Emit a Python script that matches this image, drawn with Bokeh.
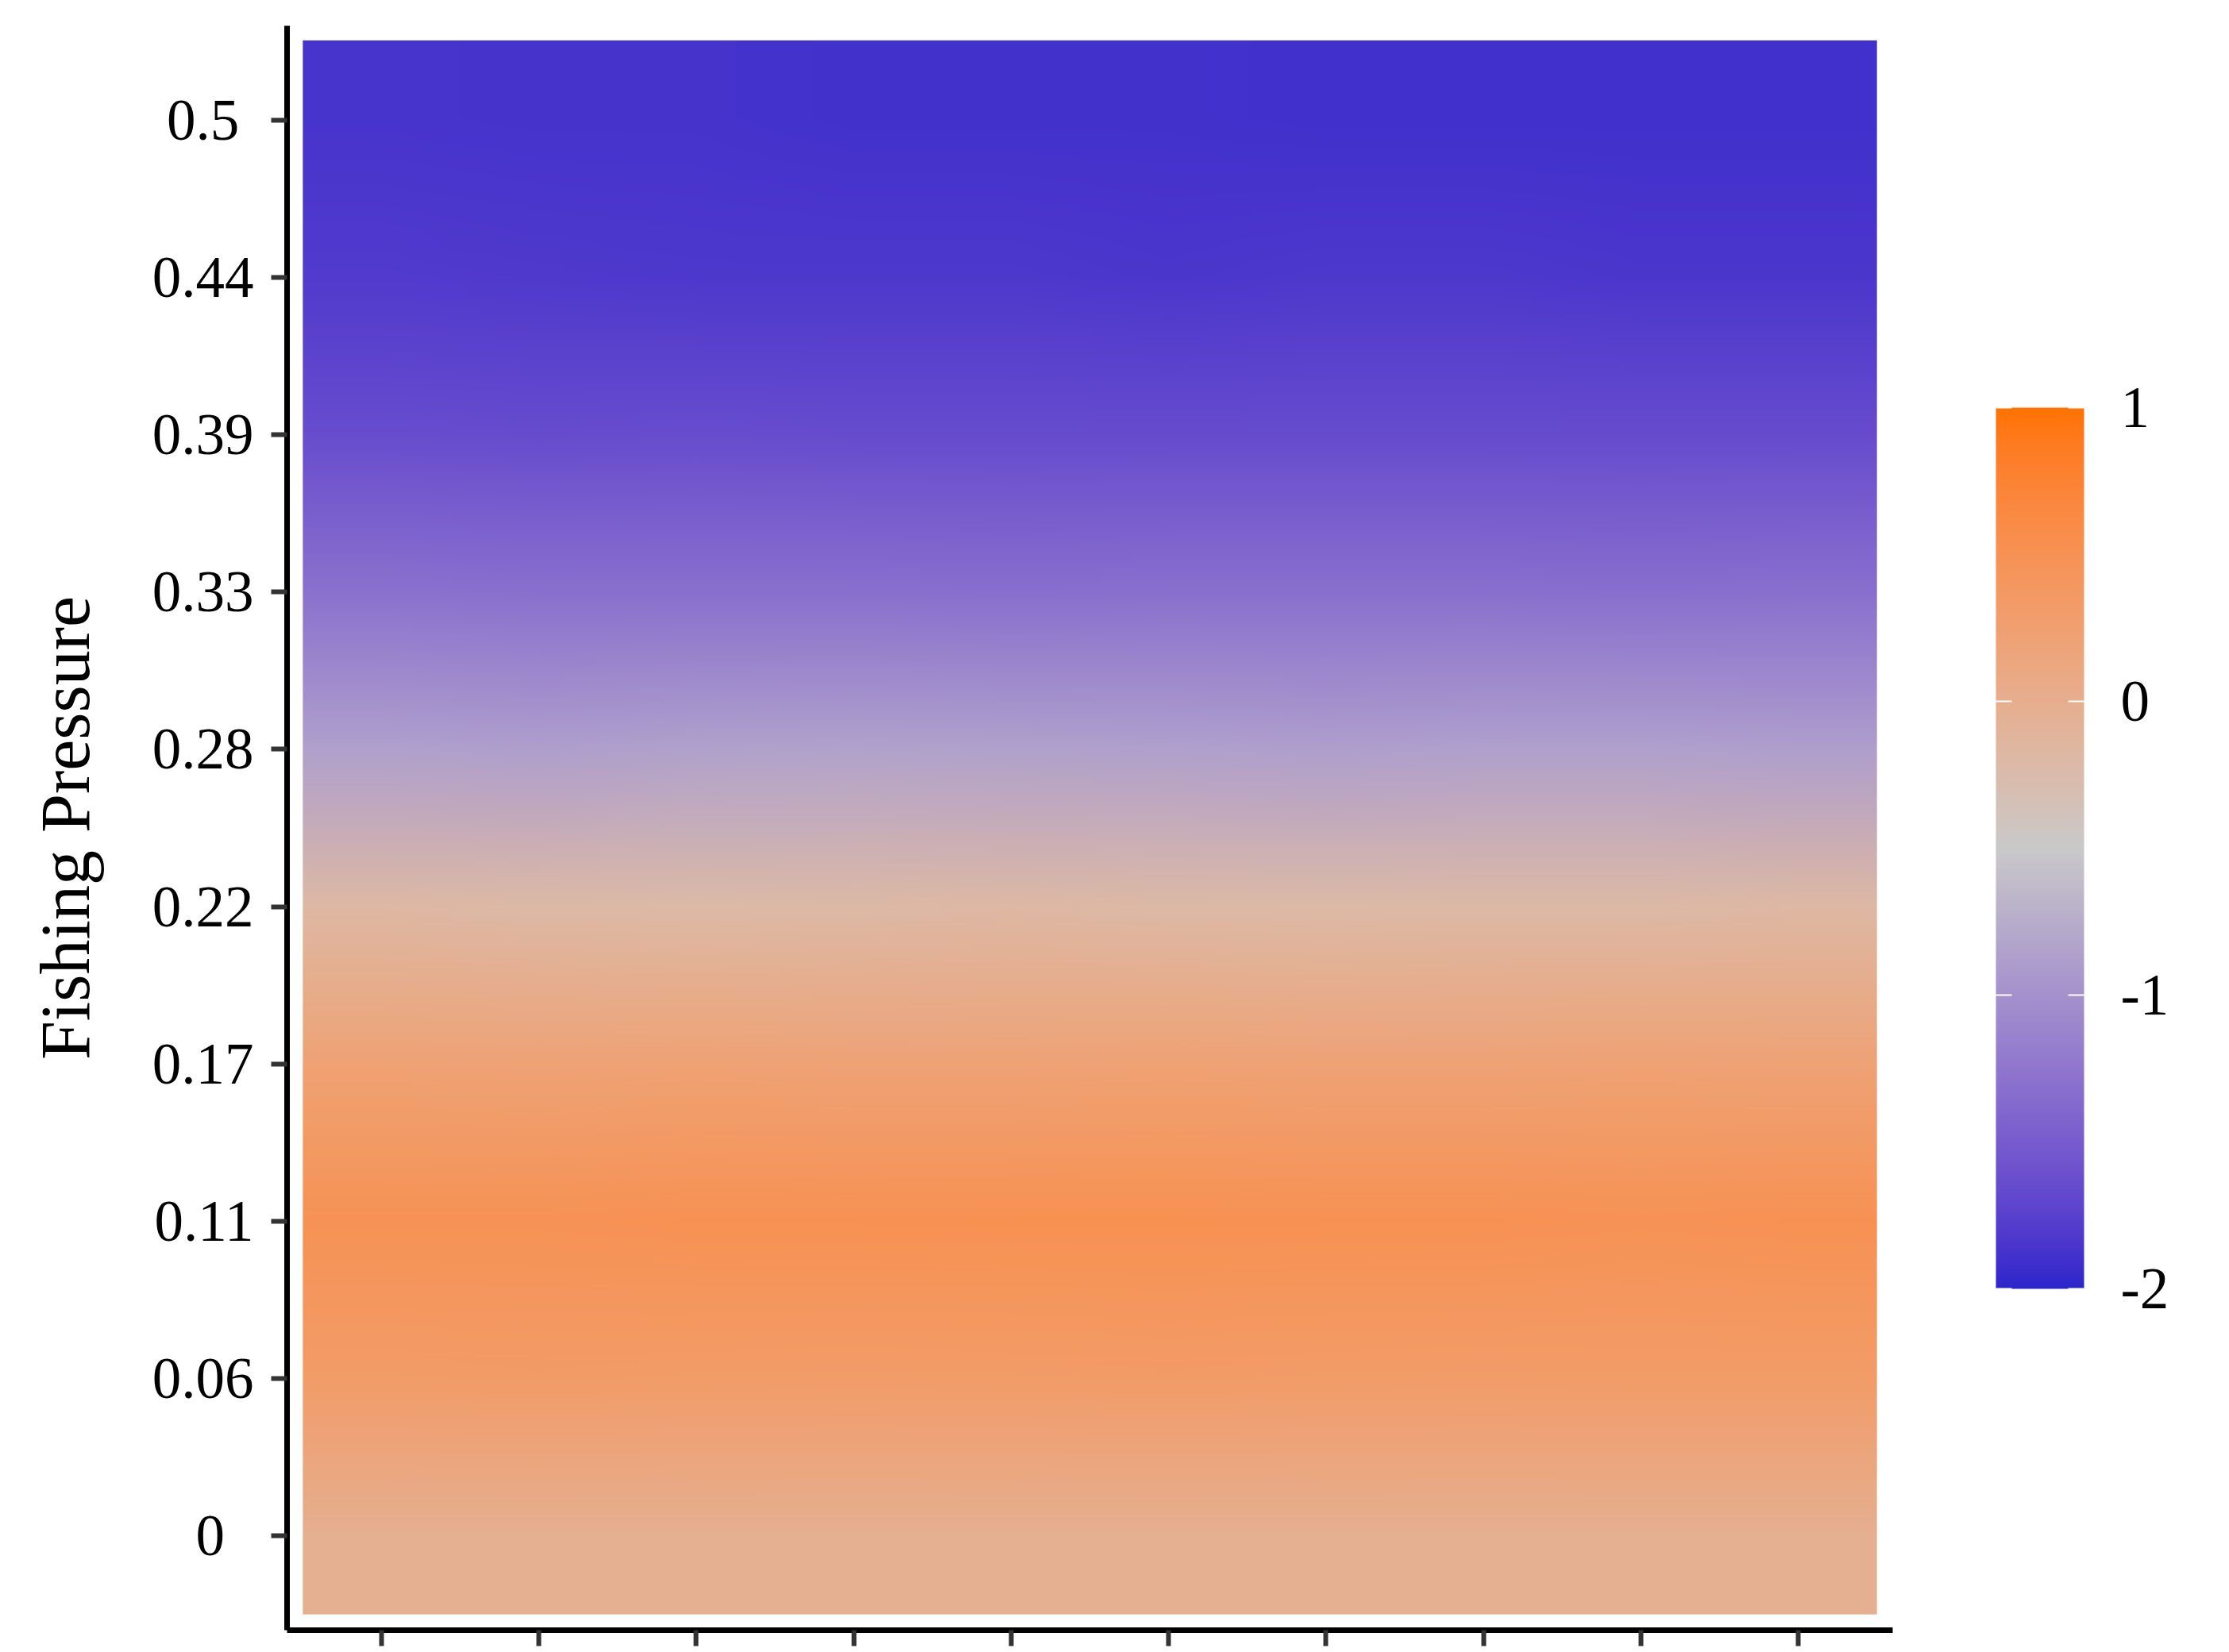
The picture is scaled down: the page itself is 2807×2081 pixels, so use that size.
import numpy as np
from bokeh.plotting import figure
from bokeh.models import LinearColorMapper, ColorBar, FixedTicker, Range1d
from bokeh.embed import file_html
from bokeh.resources import INLINE

# ---------------- data ----------------
x_positions = [1, 2, 3, 4, 5, 6, 7, 8, 9, 10]
y_values = [0.0, 0.0556, 0.1111, 0.1667, 0.2222, 0.2778, 0.3333, 0.3889, 0.4444, 0.5]
y_labels = ["0\u00a0\u00a0", "0.06", "0.11", "0.17", "0.22", "0.28", "0.33", "0.39", "0.44", "0.5\u00a0"]

# fill value per cell, one list per fishing-pressure row (columns left -> right)
fp_000 = [-0.03, -0.03, -0.02, -0.03, -0.03, -0.02, -0.03, -0.03, -0.02, -0.03]
fp_006 = [0.33, 0.34, 0.33, 0.32, 0.33, 0.34, 0.33, 0.32, 0.33, 0.33]
fp_011 = [0.49, 0.49, 0.50, 0.50, 0.51, 0.51, 0.50, 0.50, 0.49, 0.50]
fp_017 = [0.22, 0.21, 0.22, 0.21, 0.21, 0.22, 0.21, 0.21, 0.22, 0.21]
fp_022 = [-0.19, -0.20, -0.21, -0.20, -0.19, -0.20, -0.21, -0.20, -0.20, -0.19]
fp_028 = [-0.87, -0.88, -0.86, -0.85, -0.86, -0.87, -0.88, -0.87, -0.87, -0.88]
fp_033 = [-1.30, -1.32, -1.31, -1.32, -1.33, -1.32, -1.31, -1.32, -1.33, -1.32]
fp_039 = [-1.64, -1.65, -1.64, -1.65, -1.66, -1.65, -1.65, -1.66, -1.66, -1.65]
fp_044 = [-1.81, -1.82, -1.83, -1.83, -1.83, -1.84, -1.83, -1.83, -1.84, -1.84]
fp_050 = [-1.87, -1.88, -1.88, -1.89, -1.89, -1.89, -1.90, -1.90, -1.90, -1.90]

color_ticks = [-2, -1, 0, 1]
color_tick_labels = ["-2", "-1", "0", "1"]
color_low, color_high = -2.0, 1.0

# ---------------- palette (Lab-space diverging gradient) ----------------
def _hex_to_rgb(h):
    h = h.lstrip("#")
    return np.array([int(h[i:i + 2], 16) for i in (0, 2, 4)], dtype=float) / 255.0

def _to_lin(c):
    return np.where(c <= 0.04045, c / 12.92, ((c + 0.055) / 1.055) ** 2.4)

def _from_lin(c):
    c = np.clip(c, 0, 1)
    return np.where(c <= 0.0031308, 12.92 * c, 1.055 * c ** (1 / 2.4) - 0.055)

_M = np.array([[0.4124, 0.3576, 0.1805], [0.2126, 0.7152, 0.0722], [0.0193, 0.1192, 0.9505]])
_Minv = np.linalg.inv(_M)
_WHITE = np.array([0.95047, 1.0, 1.08883])

def _f(t):
    return np.where(t > (6 / 29) ** 3, np.cbrt(t), t / (3 * (6 / 29) ** 2) + 4 / 29)

def _finv(t):
    return np.where(t > 6 / 29, t ** 3, 3 * (6 / 29) ** 2 * (t - 4 / 29))

def rgb_to_lab(rgb):
    xyz = _M @ _to_lin(rgb) / _WHITE
    fx, fy, fz = _f(xyz)
    return np.array([116 * fy - 16, 500 * (fx - fy), 200 * (fy - fz)])

def lab_to_rgb255(lab):
    L, a, b = lab
    fy = (L + 16) / 116
    xyz = np.array([_finv(fy + a / 500), _finv(fy), _finv(fy - b / 200)]) * _WHITE
    rgb = _from_lin(_Minv @ xyz)
    return (np.round(rgb * 255)).astype(int)

low_c = rgb_to_lab(_hex_to_rgb("#2C25CC"))
mid_c = rgb_to_lab(_hex_to_rgb("#C9C9C9"))
high_c = rgb_to_lab(_hex_to_rgb("#FF7300"))
N = 256
palette_rgb = []
for i in range(N):
    t = i / (N - 1)
    if t <= 0.5:
        lab = low_c + (mid_c - low_c) * (t / 0.5)
    else:
        lab = mid_c + (high_c - mid_c) * ((t - 0.5) / 0.5)
    palette_rgb.append(lab_to_rgb255(lab))
palette_rgb = np.array(palette_rgb)
palette = ["#%02x%02x%02x" % tuple(c) for c in palette_rgb]

mapper = LinearColorMapper(palette=palette, low=color_low, high=color_high)

# ---------------- figure ----------------
FONT = "Liberation Serif"
step = y_values[1] - y_values[0]
p = figure(
    frame_width=2022, frame_height=2021,
    min_border_left=361, min_border_right=424, min_border_top=32, min_border_bottom=28,
    x_range=Range1d(0.4, 10.6),
    y_range=Range1d(y_values[0] - 0.6 * step, y_values[-1] + 0.6 * step),
    output_backend="svg", toolbar_location=None,
)
p.outline_line_color = None
p.xgrid.visible = False
p.ygrid.visible = False
p.background_fill_color = "white"
p.border_fill_color = "white"

grid = np.array([fp_000, fp_006, fp_011, fp_017, fp_022, fp_028, fp_033, fp_039, fp_044, fp_050])

# cell colours: same linear lookup as the colour mapper
idx = np.clip(np.floor((grid - color_low) / (color_high - color_low) * N), 0, N - 1).astype(int)
cell_rgb = palette_rgb[idx].astype(float)  # (ny, nx, 3)

# interpolated raster: bilinear blend of the cell colours between cell centres
# (edges clamped), as an interpolated raster is drawn; the data stays the grid above
ny, nx = grid.shape
sub_y, sub_x = 60, 24
uy = np.clip((np.arange(ny * sub_y) + 0.5) / sub_y - 0.5, 0, ny - 1)
ux = np.clip((np.arange(nx * sub_x) + 0.5) / sub_x - 0.5, 0, nx - 1)
channels = []
for ch in range(3):
    c = cell_rgb[:, :, ch]
    cx = np.array([np.interp(ux, np.arange(nx), r) for r in c])
    cxy = np.array([np.interp(uy, np.arange(ny), col) for col in cx.T]).T
    channels.append(cxy)
H, W = len(uy), len(ux)
rgba = np.empty((H, W), dtype=np.uint32)
view = rgba.view(dtype=np.uint8).reshape((H, W, 4))
view[:, :, 0] = np.round(channels[0]).astype(np.uint8)
view[:, :, 1] = np.round(channels[1]).astype(np.uint8)
view[:, :, 2] = np.round(channels[2]).astype(np.uint8)
view[:, :, 3] = 255

p.image_rgba(image=[rgba], x=x_positions[0] - 0.5, y=y_values[0] - 0.5 * step,
             dw=len(x_positions), dh=len(y_values) * step)

# y axis
ya = p.yaxis[0]
ya.ticker = FixedTicker(ticks=y_values)
ya.major_label_overrides = {v: l for v, l in zip(y_values, y_labels)}
ya.axis_label = "Fishing Pressure"
ya.axis_label_text_font = FONT
ya.axis_label_text_font_size = "88px"
ya.axis_label_text_font_style = "normal"
ya.axis_label_text_color = "black"
ya.axis_label_standoff = 58
ya.major_label_text_font = FONT
ya.major_label_text_font_size = "73px"
ya.major_label_text_color = "black"
ya.major_label_standoff = 22
ya.axis_line_width = 7
ya.axis_line_color = "black"
ya.major_tick_line_color = "#333333"
ya.major_tick_line_width = 6
ya.major_tick_out = 20
ya.major_tick_in = 0
ya.minor_tick_line_color = None

# x axis (ticks only, no labels)
xa = p.xaxis[0]
xa.ticker = FixedTicker(ticks=x_positions)
xa.major_label_overrides = {v: "" for v in x_positions}
xa.major_label_text_font_size = "1px"
xa.major_label_standoff = 0
xa.axis_line_width = 7
xa.axis_line_color = "black"
xa.major_tick_line_color = "#333333"
xa.major_tick_line_width = 6
xa.major_tick_out = 20
xa.major_tick_in = 0
xa.minor_tick_line_color = None

# colour bar
cb = ColorBar(
    color_mapper=mapper, location=(2152, 430), orientation="vertical",
    width=111, height=1110, padding=0, margin=0,
    ticker=FixedTicker(ticks=color_ticks),
    major_label_overrides={v: l for v, l in zip(color_ticks, color_tick_labels)},
    major_label_text_font=FONT, major_label_text_font_size="73px",
    major_label_text_color="black", label_standoff=46,
    major_tick_line_color="white", major_tick_line_width=2,
    major_tick_in=20, major_tick_out=0, minor_tick_line_color=None,
    bar_line_color=None, border_line_color=None,
    background_fill_color=None, background_fill_alpha=0,
)
p.add_layout(cb)

# left-edge tick marks of the colour bar (transparent companion bar)
cb2 = ColorBar(
    color_mapper=mapper, location=(2152, 430), orientation="vertical",
    width=20, height=1110, padding=0, margin=0, scale_alpha=0,
    ticker=FixedTicker(ticks=color_ticks),
    major_label_overrides={v: "" for v in color_ticks},
    major_label_text_font_size="1px",
    major_tick_line_color="white", major_tick_line_width=2,
    major_tick_in=20, major_tick_out=0, minor_tick_line_color=None,
    bar_line_color=None, border_line_color=None,
    background_fill_color=None, background_fill_alpha=0,
)
p.add_layout(cb2)

open("out.html", "w").write(file_html(p, INLINE))
